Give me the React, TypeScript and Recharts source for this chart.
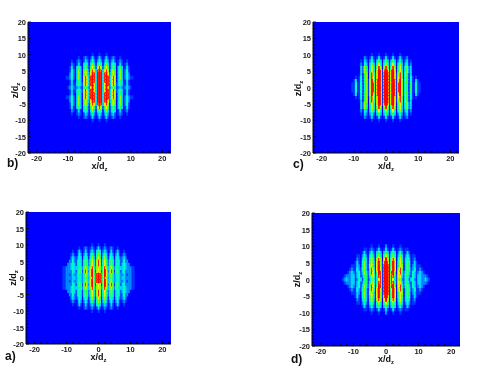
import React from "react";
import { ScatterChart, Scatter, XAxis, YAxis, CartesianGrid, Label } from "recharts";

const xTicks = [-22, -20, -18, -16, -14, -12, -10, -8, -6, -4, -2, 0, 2, 4, 6, 8, 10, 12, 14, 16, 18, 20, 22];
const zTicks = [-20, -19, -18, -17, -16, -15, -14, -13, -12, -11, -10, -9, -8, -7, -6, -5, -4, -3, -2, -1, 0, 1, 2, 3, 4, 5, 6, 7, 8, 9, 10, 11, 12, 13, 14, 15, 16, 17, 18, 19, 20];
const jetRed = "0 0 0 0 0 0.13 0.56 0.94 1 1";
const jetGreen = "0 0.22 0.55 0.85 1 1 1 0.94 0.15 0";
const jetBlue = "1 1 1 1 0.75 0.38 0 0 0 0";

// Rows are z = 0..10; columns run outward from x = 0. Each panel is mirrored about both axes.
const panelB = [
  "9917971464123212321",
  "9917981686135311310",
  "991898168603530131",
  "99189816860363024211",
  "991897157503630242",
  "981786057503630241",
  "860575036303530131",
  "640363035301310120",
  "42024202310121001",
  "3101310121001",
  "10001",
];
const panelC = [
  "99189818961640511411",
  "99189818961640511411",
  "99189817961650410310",
  "9918971785065041010",
  "9918971685065030",
  "9818970574056130",
  "8606860573056130",
  "6404740463034020",
  "5303530242023010",
  "31013101310120",
  "1000100010",
];
const panelA = [
  "98268624642353233222211",
  "98279725742353223212211",
  "76179715851463134222211",
  "76268625752453334322211",
  "86157514641353134322",
  "8615751464135312422",
  "750464035303421232",
  "640353024202410121",
  "53023201310131001",
  "3101210121001",
  "10001",
];
const panelD = [
  "9918731662154134213322321",
  "9918841773155214313322210",
  "9918950784146314312321",
  "991797068503641241121",
  "99169705760364023111",
  "981697057503640131",
  "970686047403530120",
  "75046403630242011",
  "53035302420131",
  "3101310121011",
  "200010001",
];
const bStep = [0.55];
const cStep = [0.55];
const aStep = [0.5];
const dStep = [0.55];

type Cell = { x: number; z: number; v: number };

function buildCells(rows: string[], step: number): Cell[] {
  const cells: Cell[] = [];
  rows.forEach((row, r) => {
    row.split("").forEach((ch, c) => {
      const v = Number(ch);
      if (v === 0) return;
      const xs = c === 0 ? [0] : [c * step, -c * step];
      const zs = r === 0 ? [0] : [r, -r];
      xs.forEach((x) => zs.forEach((z) => cells.push({ x, z, v })));
    });
  });
  return cells.sort((a, b) => a.v - b.v);
}

const font = "'Liberation Sans', Arial, sans-serif";

function XTick(props: any) {
  const { x, y, payload } = props;
  const major = payload.value % 10 === 0;
  return (
    <g>
      <line x1={x} x2={x} y1={y - (major ? 3 : 2)} y2={y} stroke="#000" strokeWidth={0.8} />
      {major && (
        <text x={x} y={y + 8} textAnchor="middle" fontSize={7.5} fontWeight={700} fontFamily={font} fill="#222">
          {payload.value}
        </text>
      )}
    </g>
  );
}

function YTick(props: any) {
  const { x, y, payload } = props;
  const major = payload.value % 5 === 0;
  return (
    <g>
      <line x1={x} x2={x + (major ? 3 : 2)} y1={y} y2={y} stroke="#000" strokeWidth={0.8} />
      {major && (
        <text x={x - 2} y={y + 3} textAnchor="end" fontSize={7.5} fontWeight={700} fontFamily={font} fill="#222">
          {payload.value}
        </text>
      )}
    </g>
  );
}

function AxisName({ base, vertical, tx, ty }: any) {
  return (
    <text
      x={tx}
      y={ty}
      textAnchor="middle"
      fontSize={9}
      fontWeight={700}
      fontFamily={font}
      fill="#111"
      transform={vertical ? `rotate(-90 ${tx} ${ty})` : undefined}
    >
      {base}
      <tspan fontSize={6} dy={2}>z</tspan>
    </text>
  );
}

function Panel({ rows, step, left, top, plotW, plotH, letter, letterX, letterY, yLabelX, yLabelShift, xDom }: any) {
  const cells = buildCells(rows, step);
  const pxX = plotW / (2 * xDom);
  const pxZ = plotH / 40;
  const cw = step * pxX + 0.3;
  const ch = pxZ + 0.6;
  const marginL = 30;
  const marginB = 28;
  const marginT = 4;
  const marginR = 6;
  const shape = (p: any) => {
    const g = Math.round((p.payload.v * 255) / 9);
    return <rect x={p.cx - cw / 2} y={p.cy - ch / 2} width={cw} height={ch} fill={`rgb(${g},${g},${g})`} />;
  };
  return (
    <>
      <div style={{ position: "absolute", left: left - marginL, top: top - marginT }}>
        <ScatterChart
          width={plotW + marginL + marginR}
          height={plotH + marginT + marginB}
          margin={{ top: marginT, right: marginR, left: 0, bottom: 0 }}
        >
          <CartesianGrid horizontal={false} vertical={false} fill="#0000ff" />
          <Scatter data={cells} isAnimationActive={false} shape={shape} className="heat" />
          <XAxis
            type="number"
            dataKey="x"
            domain={[-xDom, xDom]}
            ticks={xTicks}
            interval={0}
            allowDataOverflow
            height={marginB}
            tick={<XTick />}
            tickLine={false}
            tickSize={0}
            tickMargin={0}
            axisLine={{ stroke: "#000" }}
          >
            <Label content={() => <AxisName base="x/d" tx={marginL + plotW / 2} ty={marginT + plotH + 16} />} />
          </XAxis>
          <YAxis
            type="number"
            dataKey="z"
            domain={[-20, 20]}
            ticks={zTicks}
            interval={0}
            allowDataOverflow
            width={marginL}
            tick={<YTick />}
            tickLine={false}
            tickSize={0}
            tickMargin={0}
            axisLine={{ stroke: "#000" }}
          >
            <Label content={() => <AxisName base="z/d" vertical tx={yLabelX} ty={marginT + plotH / 2 + yLabelShift} />} />
          </YAxis>
        </ScatterChart>
      </div>
      <div
        style={{
          position: "absolute",
          left: letterX,
          top: letterY,
          fontFamily: font,
          fontWeight: 700,
          fontSize: 12,
          lineHeight: "12px",
          color: "#111",
        }}
      >
        {letter}
      </div>
    </>
  );
}

export default function App() {
  return (
    <div style={{ position: "absolute", left: 0, top: 0, width: 485, height: 366, background: "#fff", overflow: "hidden", filter: "blur(0.3px)" }}>
      <svg width={0} height={0} style={{ position: "absolute" }}>
        <defs>
          <filter id="jetField" colorInterpolationFilters="sRGB" x="-5%" y="-5%" width="110%" height="110%">
            <feFlood floodColor="#000" result="floor" />
            <feMerge result="field">
              <feMergeNode in="floor" />
              <feMergeNode in="SourceGraphic" />
            </feMerge>
            <feGaussianBlur in="field" stdDeviation="0.7" />
            <feComponentTransfer>
              <feFuncR type="table" tableValues={jetRed} />
              <feFuncG type="table" tableValues={jetGreen} />
              <feFuncB type="table" tableValues={jetBlue} />
            </feComponentTransfer>
          </filter>
        </defs>
      </svg>
      <style>{`.heat { filter: url(#jetField); }`}</style>
      <Panel rows={panelB} step={bStep[0]} left={28} top={22} plotW={143} plotH={131} xDom={22.8} letter="b)" letterX={7} letterY={157} yLabelX={20} yLabelShift={3} />
      <Panel rows={panelC} step={cStep[0]} left={313} top={22} plotW={146} plotH={131} xDom={22.7} letter="c)" letterX={293} letterY={158} yLabelX={18} yLabelShift={1} />
      <Panel rows={panelA} step={aStep[0]} left={26} top={212} plotW={145} plotH={132} xDom={22.7} letter="a)" letterX={5} letterY={350} yLabelX={20} yLabelShift={0} />
      <Panel rows={panelD} step={dStep[0]} left={312} top={213} plotW={148} plotH={133} xDom={22.7} letter="d)" letterX={291} letterY={353} yLabelX={18} yLabelShift={0} />
    </div>
  );
}
